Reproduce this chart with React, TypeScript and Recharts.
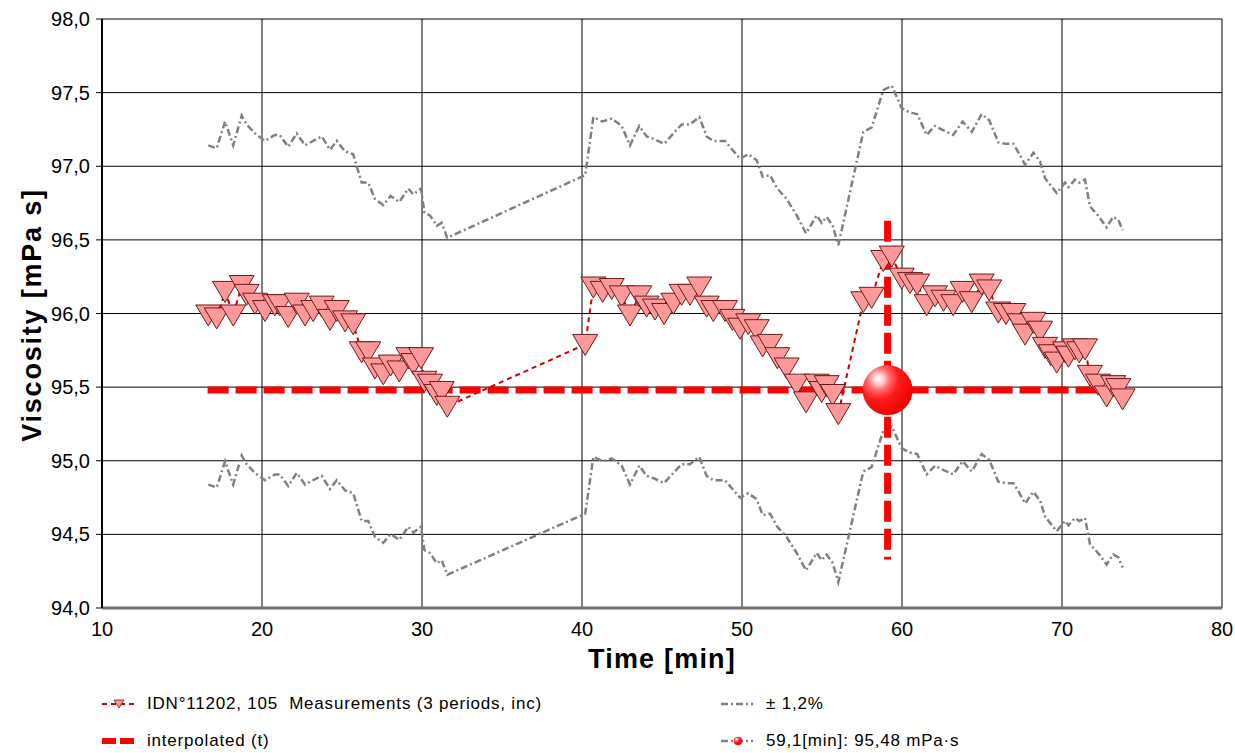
import { LineChart, Line, XAxis, YAxis, CartesianGrid, Label } from "recharts";

// measurements, 3 periods (time in min, viscosity in mPa s)
const MEAS_TIME = [
  16.64, 17.17, 17.69, 18.2, 18.73, 19.04, 19.56, 20.19, 20.8, 21.1, 21.64, 22.17, 22.69, 23.2, 23.73,
  24.25, 24.67, 25.19, 25.7, 26.23, 26.64, 27.06, 27.58, 28.04, 28.58, 29.15, 29.46, 29.94, 30.15, 30.5,
  30.92, 31.23, 31.58,
  40.2, 40.71, 41.29, 41.86, 42.48, 43.0, 43.58, 44.04, 44.56, 45.13, 45.71, 46.23, 46.75, 47.33, 47.79,
  48.21, 48.94, 49.4, 49.88, 50.39, 50.92, 51.29, 51.75, 52.21, 52.79, 53.42, 54.0, 54.67, 54.98, 55.29,
  55.67, 56.02,
  57.58, 58.1, 58.83, 59.36, 59.98, 60.5, 60.95, 61.54, 62.06, 62.6, 63.2, 63.79, 64.36, 64.98, 65.45,
  66.02, 66.5, 66.96, 67.35, 67.69, 68.21, 68.63, 68.94, 69.3, 69.67, 70.19, 70.4, 70.81, 71.08, 71.44,
  71.75, 72.25, 72.79, 73.2, 73.52, 73.79,
];
const MEAS_VISC = [
  95.99, 95.97, 96.15, 95.99, 96.19, 96.13, 96.07, 96.02, 96.06, 96.06, 95.98, 96.07, 95.99, 96.02, 96.05,
  95.96, 96.02, 95.95, 95.93, 95.74, 95.74, 95.63, 95.59, 95.65, 95.61, 95.7, 95.66, 95.7, 95.54, 95.52,
  95.45, 95.47, 95.37,
  95.79, 96.18, 96.15, 96.17, 96.12, 95.99, 96.12, 96.05, 96.03, 96.0, 96.07, 96.13, 96.13, 96.18, 96.05,
  96.02, 96.02, 95.96, 95.9, 95.93, 95.89, 95.78, 95.79, 95.7, 95.63, 95.52, 95.4, 95.52, 95.47, 95.51,
  95.45, 95.32,
  96.08, 96.11, 96.36, 96.39, 96.24, 96.21, 96.2, 96.06, 96.12, 96.09, 96.06, 96.15, 96.08, 96.2, 96.16,
  96.01, 96.0, 96.0, 95.93, 95.86, 95.94, 95.88, 95.77, 95.72, 95.67, 95.74, 95.71, 95.76, 95.74, 95.76,
  95.58, 95.52, 95.44, 95.51, 95.49, 95.42,
];

const TOLERANCE_PCT = 1.2;

// interpolated value at t
const INTERP_T = 59.1;
const INTERP_V = 95.48;
const INTERP_SPAN = [16.6, 73.8];
const INTERP_LIMITS = [96.63, 94.33];

const X_TICKS = [10, 20, 30, 40, 50, 60, 70, 80];
const Y_TICKS = [94, 94.5, 95, 95.5, 96, 96.5, 97, 97.5, 98];

const measData = MEAS_TIME.map((t, i) => ({
  t,
  v: MEAS_VISC[i],
  hi: MEAS_VISC[i] * (1 + TOLERANCE_PCT / 100),
  lo: MEAS_VISC[i] * (1 - TOLERANCE_PCT / 100),
}));
const hLine = INTERP_SPAN.map((t) => ({ t, v: INTERP_V }));
const vLine = INTERP_LIMITS.map((v) => ({ t: INTERP_T, v }));
const pointData = [{ t: INTERP_T, v: INTERP_V }];

const FONT = "'Liberation Sans', Arial, sans-serif";

const Triangle = (props: any) => {
  const { cx, cy, index } = props;
  if (cx == null || cy == null) return <g key={index} />;
  return (
    <path
      key={index}
      d={`M${cx - 12.5},${cy - 10} L${cx + 12.5},${cy - 10} L${cx},${cy + 11} Z`}
      fill="#FF9999"
      stroke="#6B1A1A"
      strokeWidth={1}
    />
  );
};

const Ball = (props: any) => {
  const { cx, cy, index } = props;
  if (cx == null || cy == null) return <g key={index} />;
  return <circle key={index} cx={cx} cy={cy} r={25} fill="url(#ballGrad)" />;
};

const legendText = { fontFamily: FONT, fontSize: 17, letterSpacing: 0.8, whiteSpace: "pre" as const };

function LegendRow({ top, left, icon, text }: any) {
  return (
    <div style={{ position: "absolute", top, left, display: "flex", alignItems: "center" }}>
      <svg width={36} height={14} style={{ marginRight: 10 }}>
        {icon}
      </svg>
      <span style={legendText}>{text}</span>
    </div>
  );
}

export default function App() {
  return (
    <div style={{ position: "absolute", left: 0, top: 0, width: 1235, height: 753, background: "#fff" }}>
      <LineChart width={1235} height={753} margin={{ top: 19, right: 13, left: 0, bottom: 105 }}>
        <defs>
          <radialGradient id="ballGrad" cx="32%" cy="28%" r="75%">
            <stop offset="0%" stopColor="#ffffff" />
            <stop offset="12%" stopColor="#ffd6d6" />
            <stop offset="30%" stopColor="#ff6a6a" />
            <stop offset="55%" stopColor="#ff1a1a" />
            <stop offset="100%" stopColor="#f00000" />
          </radialGradient>
        </defs>
        <CartesianGrid stroke="#000" strokeWidth={1} />
        <XAxis
          type="number"
          dataKey="t"
          domain={[10, 80]}
          ticks={X_TICKS}
          interval={0}
          height={40}
          tickLine={false}
          tickSize={0}
          tickMargin={14}
          axisLine={{ stroke: "#707070", strokeWidth: 3 }}
          tick={{ fill: "#000", fontSize: 20, fontFamily: FONT }}
          allowDataOverflow
        >
          <Label
            content={() => (
              <text
                x={662}
                y={668}
                textAnchor="middle"
                fontFamily={FONT}
                fontWeight="bold"
                fontSize={27}
                letterSpacing={1.2}
                fill="#000"
              >
                Time [min]
              </text>
            )}
          />
        </XAxis>
        <YAxis
          type="number"
          dataKey="v"
          domain={[94, 98]}
          ticks={Y_TICKS}
          interval={0}
          width={102}
          tickSize={6}
          tickMargin={6}
          tickLine={{ stroke: "#000" }}
          axisLine={{ stroke: "#000", strokeWidth: 2 }}
          tick={{ fill: "#000", fontSize: 20, fontFamily: FONT }}
          tickFormatter={(v: number) => v.toFixed(1).replace(".", ",")}
          allowDataOverflow
        >
          <Label
            content={() => (
              <text
                x={41}
                y={315}
                transform="rotate(-90 41 315)"
                textAnchor="middle"
                fontFamily={FONT}
                fontWeight="bold"
                fontSize={27}
                letterSpacing={1.8}
                fill="#000"
              >
                Viscosity [mPa s]
              </text>
            )}
          />
        </YAxis>

        <Line
          data={measData}
          dataKey="hi"
          stroke="#808080"
          strokeWidth={2.5}
          strokeDasharray="7 3 2 3"
          dot={false}
          isAnimationActive={false}
        />
        <Line
          data={measData}
          dataKey="lo"
          stroke="#808080"
          strokeWidth={2.5}
          strokeDasharray="7 3 2 3"
          dot={false}
          isAnimationActive={false}
        />
        <Line
          data={hLine}
          dataKey="v"
          stroke="#FF0000"
          strokeWidth={7}
          strokeDasharray="21 7"
          dot={false}
          isAnimationActive={false}
        />
        <Line
          data={vLine}
          dataKey="v"
          stroke="#FF0000"
          strokeWidth={7}
          strokeDasharray="21 7"
          dot={false}
          isAnimationActive={false}
        />
        <Line
          data={measData}
          dataKey="v"
          stroke="#CC0000"
          strokeWidth={2}
          strokeDasharray="5 4"
          dot={Triangle}
          isAnimationActive={false}
        />
        <Line
          data={pointData}
          dataKey="v"
          stroke="none"
          dot={Ball}
          isAnimationActive={false}
        />
      </LineChart>

      <LegendRow
        top={694}
        left={101}
        text="IDN°11202, 105  Measurements (3 periods, inc)"
        icon={
          <g>
            <line x1={1} y1={7} x2={35} y2={7} stroke="#CC0000" strokeWidth={2} strokeDasharray="5 4" />
            <path d="M13,3 L23,3 L18,11 Z" fill="#FF9999" stroke="#6B1A1A" strokeWidth={0.8} />
          </g>
        }
      />
      <LegendRow
        top={731}
        left={101}
        text="interpolated (t)"
        icon={<line x1={1} y1={7} x2={35} y2={7} stroke="#FF0000" strokeWidth={6} strokeDasharray="14 4" />}
      />
      <LegendRow
        top={694}
        left={720}
        text="± 1,2%"
        icon={<line x1={1} y1={7} x2={33} y2={7} stroke="#808080" strokeWidth={2.5} strokeDasharray="7 3 2 3" />}
      />
      <LegendRow
        top={731}
        left={720}
        text="59,1[min]: 95,48 mPa·s"
        icon={
          <g>
            <line x1={1} y1={7} x2={33} y2={7} stroke="#808080" strokeWidth={2.5} strokeDasharray="7 3 2 3" />
            <circle cx={18} cy={7} r={4} fill="url(#ballGrad)" stroke="#FF0000" strokeWidth={0.5} />
          </g>
        }
      />
    </div>
  );
}
